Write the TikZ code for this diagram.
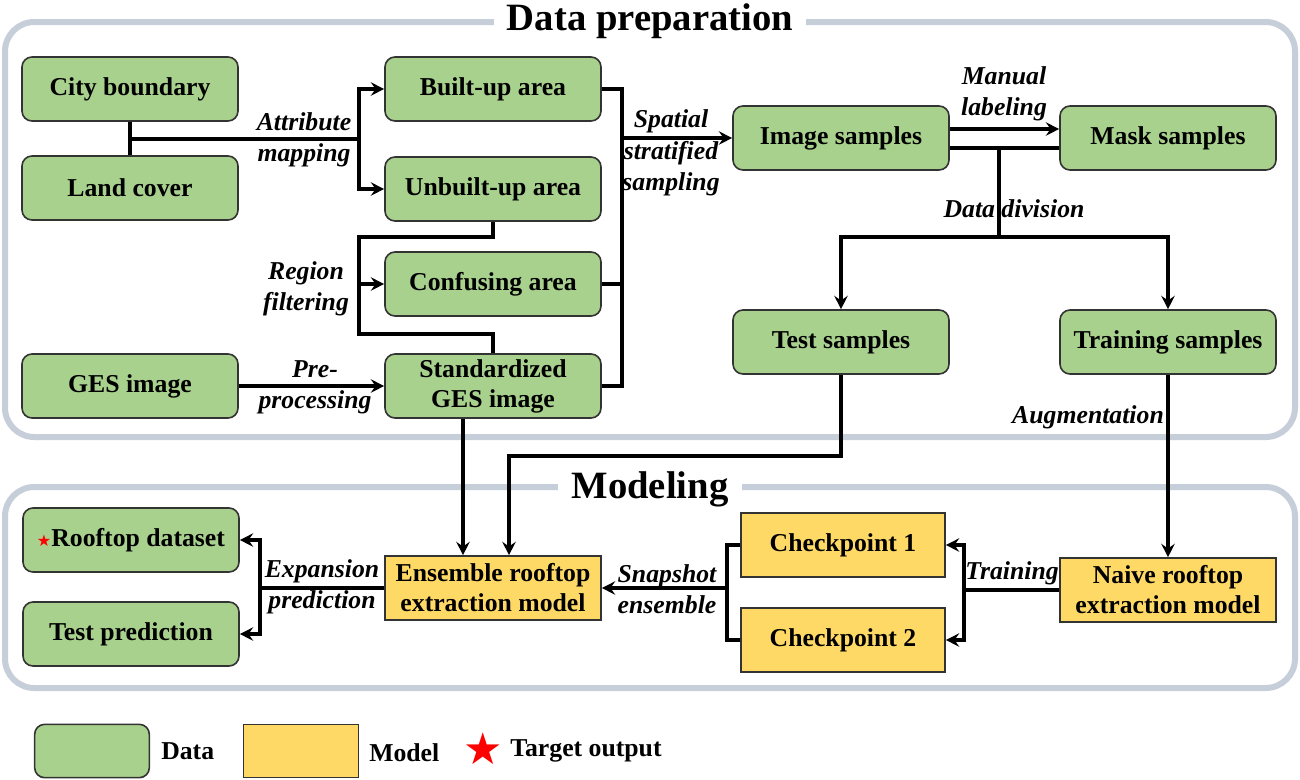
\documentclass[tikz,border=0pt]{standalone}
\usepackage{fontspec}
\setmainfont{Liberation Serif}
\newfontfamily\djv{DejaVu Sans}
\usetikzlibrary{arrows.meta}
\definecolor{gfill}{HTML}{A9D18E}
\definecolor{yfill}{HTML}{FFD966}
\definecolor{framec}{HTML}{C6CEDA}
\definecolor{bdr}{HTML}{333333}
\begin{document}
\begin{tikzpicture}[x=0.75pt,y=-0.75pt,
  txt/.style={font=\fontsize{19.3}{22.5}\selectfont\bfseries, align=center, inner sep=0pt},
  gbox/.style={txt, draw=bdr, line width=1.2pt, fill=gfill, rounded corners=7.5pt, minimum width=162pt, minimum height=48pt},
  ybox/.style={txt, draw=bdr, line width=1.2pt, fill=yfill, minimum width=162pt, minimum height=48pt},
  lbl/.style={font=\fontsize{19.3}{23.5}\selectfont\bfseries\itshape, align=center, inner sep=0pt},
  conn/.style={line width=2.6pt, -{Stealth[length=10pt,width=10pt,inset=3.5pt]}},
  plain/.style={line width=2.6pt},
  framebox/.style={draw=framec, line width=4.5pt, rounded corners=22pt},
  title/.style={font=\fontsize{29}{34}\selectfont\bfseries, fill=white, inner xsep=10pt, inner ysep=2pt, anchor=base}
]
\useasboundingbox (0,0) rectangle (1300,779);
\fill[white] (0,0) rectangle (1300,779);

% frames
\draw[framebox] (5,22) rectangle (1295,437);
\node[title] (t1) at (650,30) {Data preparation};
\draw[framebox] (5,487) rectangle (1295,688);
\node[title] (t2) at (650,498) {Modeling};

% data preparation nodes
\node[gbox] (city) at (130,89) {City boundary};
\node[gbox] (land) at (130,188) {Land cover};
\node[gbox] (built) at (493,89) {Built-up area};
\node[gbox] (unbuilt) at (493,189) {Unbuilt-up area};
\node[gbox] (confuse) at (493,284) {Confusing area};
\node[gbox] (std) at (493,386) {Standardized\\GES image};
\node[gbox] (ges) at (130,386) {GES image};
\node[gbox] (imgs) at (841,138) {Image samples};
\node[gbox] (mask) at (1168,138) {Mask samples};
\node[gbox] (test) at (841,342) {Test samples};
\node[gbox] (train) at (1168,342) {Training samples};

% modeling nodes
\node[gbox] (roof) at (131,540) {{\djv\color{red}\fontsize{12}{12}\selectfont ★}Rooftop dataset};
\node[gbox] (tpred) at (131,634) {Test prediction};
\node[ybox] (ens) at (493,588) {Ensemble rooftop\\extraction model};
\node[ybox, minimum width=153pt] (ck1) at (843,545) {Checkpoint 1};
\node[ybox, minimum width=153pt] (ck2) at (843,640) {Checkpoint 2};
\node[ybox] (naive) at (1168,590) {Naive rooftop\\extraction model};

% legend
\node[gbox, minimum width=86pt, minimum height=40pt] (lg) at (92,751) {};
\node[txt, anchor=west] (lgt) at (161,751) {Data};
\node[ybox, minimum width=86pt, minimum height=40pt] (ly) at (301,751) {};
\node[txt, anchor=west] (lyt) at (369,753) {Model};
\node[text=red, inner sep=0pt, font=\djv\fontsize{33}{33}\selectfont] (lstar) at (483,749) {★};
\node[txt, anchor=west] (lst) at (510,751) {Target output};

% attribute mapping
\coordinate (am) at (359,139);
\draw[plain] (city.south) -- (land.north);
\draw[plain] (city.south |- am) -- (am);
\draw[conn] (am) |- (built.west);
\draw[conn] (am) |- (unbuilt.west);

% region filtering
\coordinate (rf) at (359,284);
\draw[plain] (unbuilt.south) |- (359,237) -- (359,334) -| (std.north);
\draw[conn] (rf) -- (confuse.west);

% pre-processing
\draw[conn] (ges.east) -- (std.west);

% spatial stratified sampling
\coordinate (sb) at (622,138);
\draw[plain] (built.east) -- (built.east -| sb) -- (std.east -| sb) -- (std.east);
\draw[plain] (confuse.east) -- (confuse.east -| sb);
\draw[conn] (sb) -- (imgs.west);

% manual labeling / data division
\draw[conn] ([yshift=6.75pt]imgs.east) -- ([yshift=6.75pt]mask.west);
\draw[plain] ([yshift=-7.5pt]imgs.east) -- ([yshift=-7.5pt]mask.west);
\coordinate (dd) at (999,148);
\coordinate (ddb) at (999,237);
\draw[plain] (dd) -- (ddb);
\draw[conn] (ddb) -| (test.north);
\draw[conn] (ddb) -| (train.north);

% to ensemble
\coordinate (tcol) at (509,456);
\draw[conn] (test.south) |- (tcol) -- (tcol |- ens.north);
\coordinate (scol) at (463,420);
\draw[conn] (scol |- std.south) -- (scol |- ens.north);

% augmentation
\draw[conn] (train.south) -- (naive.north);

% training
\coordinate (tb) at (964,590);
\draw[plain] (naive.west) -- (tb);
\draw[conn] (tb) |- (ck1.east);
\draw[conn] (tb) |- (ck2.east);

% snapshot ensemble
\coordinate (sb2) at (727,588);
\draw[plain] (ck1.west) -| (sb2) |- (ck2.west);
\draw[conn] (sb2) -- (ens.east);

% expansion prediction
\coordinate (eb) at (260,588);
\draw[plain] (ens.west) -- (eb);
\draw[conn] (eb) |- (roof.east);
\draw[conn] (eb) |- (tpred.east);

% labels
\node[lbl] (l1) at (304,140) {Attribute\\mapping};
\node[lbl] (l2) at (306,289) {Region\\filtering};
\node[lbl] (l3) at (315,387) {Pre-\\processing};
\node[lbl] (l4) at (671,153) {Spatial\\stratified\\sampling};
\node[lbl] (l5) at (1004,94) {Manual\\labeling};
\node[lbl] (l6) at (1014,209) {Data division};
\node[lbl] (l7) at (1088,417) {Augmentation};
\node[lbl] (l8) at (322,587) {Expansion\\prediction};
\node[lbl] (l9) at (667,589) {Snapshot\\ensemble};
\node[lbl] (l10) at (1012,573) {Training};
\end{tikzpicture}
\end{document}
